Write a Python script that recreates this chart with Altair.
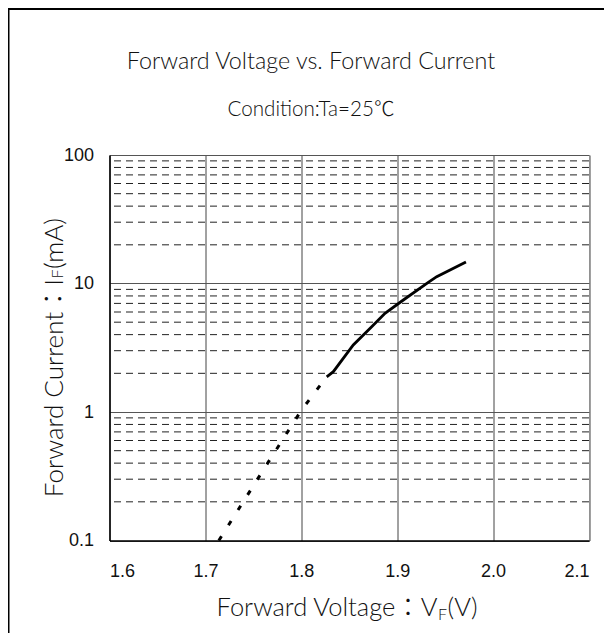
import altair as alt
import pandas as pd

# ---- data ----
dot_v = [1.714, 1.7604, 1.8004, 1.8265]
dot_i = [0.1, 0.354, 1.04, 1.88]
solid_v = [1.8265, 1.8334, 1.8542, 1.8734, 1.8873, 1.9064, 1.9324, 1.9412, 1.9717]
solid_i = [1.88, 2.06, 3.32, 4.61, 5.86, 7.44, 10.2, 11.3, 14.7]
x_ticks = [1.6, 1.7, 1.8, 1.9, 2.0, 2.1]
y_major = [0.1, 1, 10, 100]
y_minor = [0.2, 0.3, 0.4, 0.5, 0.6, 0.7, 0.8, 0.9,
           2, 3, 4, 5, 6, 7, 8, 9,
           20, 30, 40, 50, 60, 70, 80, 90]

title_text = "Forward Voltage vs. Forward Current"
subtitle_text = "Condition:Ta=25\u2103"
x_title_parts = ["Forward Voltage\uff1aV", "F", "(V)"]
y_title_parts = ["Forward Current\uff1aI", "F", "(mA)"]

W, H = 479.5, 385.5
TF = "Lato, Noto Sans CJK JP"
NUM = "Liberation Sans Narrow, Liberation Sans, Arial"

xscale = alt.Scale(domain=[1.6, 2.1], nice=False, zero=False)
yscale = alt.Scale(type="log", domain=[0.1, 100], nice=False)

xaxis = alt.Axis(values=x_ticks, format=".1f", grid=True, gridColor="#444", gridWidth=1,
                 tickSize=0, domainColor="black", domainWidth=1.5,
                 labelFont=NUM, labelFontSize=18, labelColor="#111", labelPadding=22,
                 title=None)
yaxis = alt.Axis(values=y_major, format="~g", grid=True, gridColor="#555", gridWidth=1,
                 tickSize=0, domainColor="black", domainWidth=1.5,
                 labelFont=NUM, labelFontSize=18, labelColor="#111", labelPadding=16,
                 title=None)

minor_df = pd.DataFrame({"v": y_minor})
dot_df = pd.DataFrame({"V": dot_v, "I": dot_i})
solid_df = pd.DataFrame({"V": solid_v, "I": solid_i})
one = pd.DataFrame({"a": [0]})

minor = alt.Chart(minor_df).mark_rule(color="#222", strokeWidth=1, strokeDash=[7, 5]).encode(
    y=alt.Y("v:Q", scale=yscale, axis=yaxis)
)
dotted = alt.Chart(dot_df).mark_line(color="black", strokeWidth=3, strokeDash=[5, 13]).encode(
    x=alt.X("V:Q", scale=xscale, axis=xaxis),
    y=alt.Y("I:Q", scale=yscale, axis=yaxis),
)
solid = alt.Chart(solid_df).mark_line(color="black", strokeWidth=2.8).encode(
    x=alt.X("V:Q", scale=xscale, axis=xaxis),
    y=alt.Y("I:Q", scale=yscale, axis=yaxis),
)

def label(txt, x, y, size, angle=0, align="center", baseline="middle", dy=0):
    return alt.Chart(pd.DataFrame({"t": [txt]})).mark_text(
        font=TF, fontSize=size, fontWeight=300, color="#111", align=align,
        baseline=baseline, angle=angle, dy=dy
    ).encode(text="t:N", x=alt.value(x), y=alt.value(y))

t1 = label(title_text, 201.5, -93, 23.3)
t2 = label(subtitle_text, 201.5, -45, 20.6)

# x-axis title with subscript F
XB = 461
XS = 328
tx_a = label(x_title_parts[0], XS, XB, 25.5, align="right", baseline="alphabetic")
tx_b = label(x_title_parts[1], XS + 0.5, XB, 16, align="left", baseline="alphabetic", dy=4)
tx_c = label(x_title_parts[2], XS + 10, XB, 25.5, align="left", baseline="alphabetic")

# y-axis title (rotated) with small F
YB = -46.5
YS = 124
ty_a = label(y_title_parts[0], YB, YS, 26, angle=270, align="right", baseline="alphabetic")
ty_b = label(y_title_parts[1], YB, YS - 0.5, 16, angle=270, align="left", baseline="alphabetic")
ty_c = label(y_title_parts[2], YB, YS - 10, 26, angle=270, align="left", baseline="alphabetic")

frame_left = alt.Chart(one).mark_rule(color="black", strokeWidth=2).encode(
    x=alt.value(-101), y=alt.value(-147), y2=alt.value(480)
)
frame_top = alt.Chart(one).mark_rule(color="black", strokeWidth=2).encode(
    x=alt.value(-101.5), x2=alt.value(500), y=alt.value(-146)
)

chart = alt.layer(minor, dotted, solid, t1, t2, tx_a, tx_b, tx_c, ty_a, ty_b, ty_c,
                  frame_left, frame_top).properties(
    width=W, height=H,
    autosize=alt.AutoSizeParams(type="none"),
    padding={"left": 101.5, "top": 147, "right": 15, "bottom": 92},
).configure_view(stroke="#999", strokeWidth=1).configure(background="white")

chart.save("out.html", embed_options={"renderer": "svg", "actions": False})
